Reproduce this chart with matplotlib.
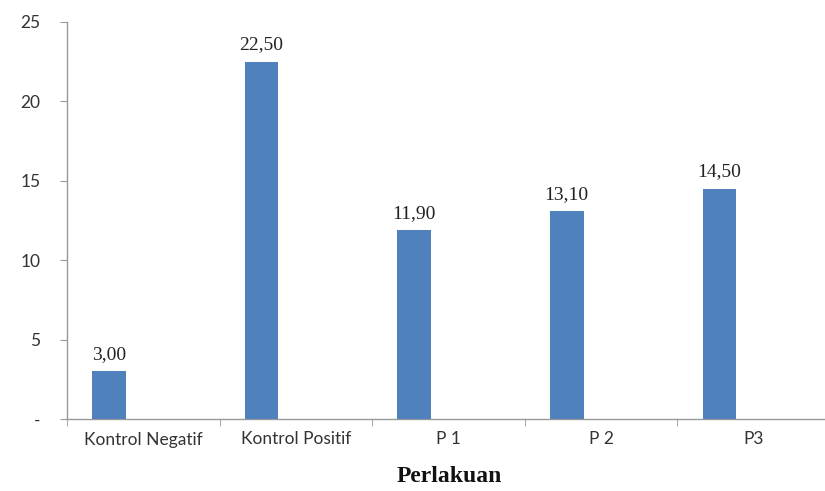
import matplotlib
matplotlib.use("Agg")
import matplotlib.pyplot as plt
import numpy as np

categories = ["Kontrol Negatif", "Kontrol Positif", "P 1", "P 2", "P3"]
values = [3.00, 22.50, 11.90, 13.10, 14.50]
value_labels = ["3,00", "22,50", "11,90", "13,10", "14,50"]
y_ticks = [0, 5, 10, 15, 20, 25]
y_tick_labels = ["-", "5", "10", "15", "20", "25"]
x_label = "Perlakuan"

fig = plt.figure(figsize=(8.25, 4.91), dpi=100)
ax = fig.add_axes([67/825, 1-419/491, (830-67)/825, (419-22)/491])

x = np.arange(len(categories))
bar_offset = -0.225
bar_width = 0.22
bars = ax.bar(x + bar_offset, values, width=bar_width, color="#4F81BD", zorder=3)

for b, lab in zip(bars, value_labels):
    ax.annotate(lab, (b.get_x() + b.get_width()/2, b.get_height()),
                xytext=(0, 6), textcoords="offset points", ha="center", va="bottom",
                fontsize=14, family="Liberation Serif", color="#222222")

ax.set_xlim(-0.5, len(categories) - 0.5)
ax.set_ylim(0, 25)
ax.set_yticks(y_ticks)
ax.set_yticklabels(y_tick_labels, fontsize=12.5, family="Lato", color="#333333")
ax.set_xticks(x)
ax.set_xticklabels(categories, fontsize=12.5, family="Lato", color="#333333")
ax.set_xticks(np.arange(len(categories) + 1) - 0.5, minor=True)
ax.tick_params(axis="x", which="major", length=0, pad=9)
ax.tick_params(axis="x", which="minor", length=5, color="#999999", direction="out")
ax.tick_params(axis="y", length=5, color="#999999", pad=14)

for s in ["top", "right"]:
    ax.spines[s].set_visible(False)
for s in ["left", "bottom"]:
    ax.spines[s].set_color("#999999")
    ax.spines[s].set_linewidth(1.0)

fig.text(449/825, 1-476/491, x_label, ha="center", va="center",
         fontsize=17, fontweight="bold", family="Liberation Serif", color="#111111")

fig.savefig("out.png", dpi=100)
